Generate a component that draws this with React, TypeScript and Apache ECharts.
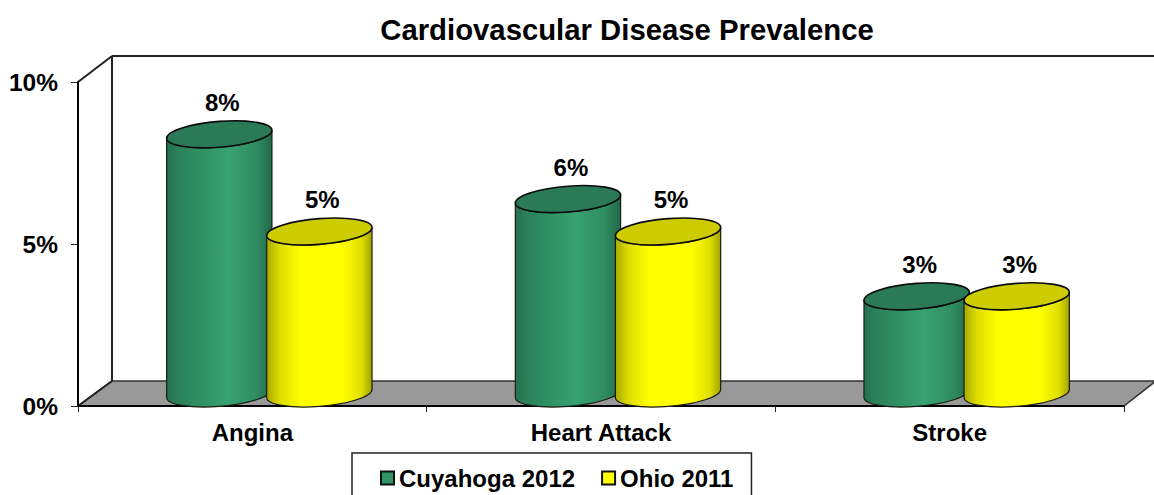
import React, { useEffect, useRef } from "react";
import * as echarts from "echarts";

const TITLE = "Cardiovascular Disease Prevalence";
const categories = ["Angina", "Heart Attack", "Stroke"];
const cuyahoga2012 = [8, 6, 3];
const ohio2011 = [5, 5, 3];
const yTicks = { min: 0, max: 10, interval: 5 };

const FONT = "'Liberation Sans', Arial, sans-serif";
const L = 78, R = 1124, T = 82, B = 406;
const DX = 34, DY = 25;
const K = 0.5523;

const GREEN_STOPS = [
  { offset: 0, color: "#23704f" },
  { offset: 0.1, color: "#2a8059" },
  { offset: 0.35, color: "#309265" },
  { offset: 0.58, color: "#38a272" },
  { offset: 0.85, color: "#2f8c61" },
  { offset: 1, color: "#216a4a" },
];
const YELLOW_STOPS = [
  { offset: 0, color: "#a8a800" },
  { offset: 0.12, color: "#dcdc00" },
  { offset: 0.32, color: "#ffff00" },
  { offset: 0.72, color: "#ffff00" },
  { offset: 0.9, color: "#dede00" },
  { offset: 1, color: "#a3a300" },
];

function makeRender(side: number, stops: any[], topColor: string) {
  return (params: any, api: any) => {
    const idx = api.value(0);
    const val = api.value(1);
    const band = api.size([1, 0])[0];
    const [bx, base] = api.coord([idx, 0]);
    const [, top] = api.coord([idx, val]);
    const rx = band * 0.151;
    const cx = bx + DX / 2 + side * band * 0.1435;
    const ry = 12.9;
    const kr = 4;
    const p = (cy: number, u: number, v: number) =>
      `${(cx + rx * u).toFixed(2)} ${(cy - kr * u + ry * v).toFixed(2)}`;
    const lower = (c: number) =>
      `C${p(c, -1, K)} ${p(c, -K, 1)} ${p(c, 0, 1)} C${p(c, K, 1)} ${p(c, 1, K)} ${p(c, 1, 0)}`;
    const upperBack = (c: number) =>
      `C${p(c, 1, K)} ${p(c, K, 1)} ${p(c, 0, 1)} C${p(c, -K, 1)} ${p(c, -1, K)} ${p(c, -1, 0)}`;
    const upperFront = (c: number) =>
      `C${p(c, 1, -K)} ${p(c, K, -1)} ${p(c, 0, -1)} C${p(c, -K, -1)} ${p(c, -1, -K)} ${p(c, -1, 0)}`;
    const topY = top - DY / 2;
    const botY = base - DY / 2;
    const body = `M${p(topY, -1, 0)} L${p(botY, -1, 0)} ${lower(botY)} L${p(topY, 1, 0)} ${upperBack(topY)} Z`;
    const cap = `M${p(topY, -1, 0)} ${lower(topY)} ${upperFront(topY)} Z`;
    return {
      type: "group",
      children: [
        {
          type: "path",
          shape: { pathData: body },
          style: {
            fill: new echarts.graphic.LinearGradient(0, 0, 1, 0, stops),
            stroke: "#1c1c10",
            lineWidth: 1.2,
          },
        },
        {
          type: "path",
          shape: { pathData: cap },
          style: { fill: topColor, stroke: "#0c0c0c", lineWidth: 1.6 },
        },
        {
          type: "text",
          x: cx + 3,
          y: topY - 32,
          style: {
            text: `${Math.round(val)}%`,
            fontFamily: FONT,
            fontWeight: "bold",
            fontSize: 24,
            fill: "#000",
            align: "center",
            verticalAlign: "middle",
          },
        },
      ],
    };
  };
}

export default function App() {
  const ref = useRef<HTMLDivElement>(null);
  useEffect(() => {
    const chart = echarts.init(ref.current!, null, { renderer: "svg" });
    const line = (x1: number, y1: number, x2: number, y2: number, color = "#222", w = 2) => ({
      type: "line",
      z: -1,
      silent: true,
      shape: { x1, y1, x2, y2 },
      style: { stroke: color, lineWidth: w },
    });
    chart.setOption({
      animation: false,
      backgroundColor: "#fff",
      title: {
        text: TITLE,
        left: 622,
        top: 10,
        textAlign: "center",
        textStyle: { fontFamily: FONT, fontWeight: "bold", fontSize: 29.3, color: "#000" },
      },
      grid: { left: L, right: 1154 - R, top: T, bottom: 495 - B, containLabel: false },
      xAxis: {
        type: "category",
        data: categories,
        boundaryGap: true,
        axisLine: { show: true, lineStyle: { color: "#000", width: 2 } },
        axisTick: { show: true, length: 6, lineStyle: { color: "#222", width: 1 } },
        axisLabel: {
          margin: 14,
          fontFamily: FONT,
          fontWeight: "bold",
          fontSize: 24,
          color: "#000",
        },
        z: 1,
      },
      yAxis: {
        type: "value",
        min: yTicks.min,
        max: yTicks.max,
        interval: yTicks.interval,
        splitLine: { show: false },
        axisLine: { show: true, lineStyle: { color: "#000", width: 2 } },
        axisTick: { show: true, length: 7, lineStyle: { color: "#222", width: 1 } },
        axisLabel: {
          margin: 20,
          formatter: "{value}%",
          fontFamily: FONT,
          fontWeight: "bold",
          fontSize: 24.5,
          color: "#000",
        },
        z: 1,
      },
      legend: {
        left: 352,
        top: 453,
        orient: "horizontal",
        padding: [13, 18, 13, 28],
        borderColor: "#222",
        borderWidth: 1.5,
        itemWidth: 13,
        itemHeight: 13,
        itemGap: 26,
        icon: "rect",
        textStyle: { fontFamily: FONT, fontWeight: "bold", fontSize: 24, color: "#000", padding: [0, 0, 0, 0] },
        data: [
          { name: "Cuyahoga 2012", itemStyle: { color: "#2f9466", borderColor: "#111", borderWidth: 2 } },
          { name: "Ohio 2011", itemStyle: { color: "#ffff00", borderColor: "#111", borderWidth: 2 } },
        ],
      },
      graphic: [
        {
          type: "polygon",
          z: -2,
          silent: true,
          shape: { points: [[L, B], [L + DX, B - DY], [1156, B - DY], [R, B]] },
          style: { fill: "#999999", stroke: "#333", lineWidth: 1.5 },
        },
        line(L + DX, T - DY - 1, L + DX, B - DY),
        line(L + DX, T - DY - 1, 1154, T - DY - 1),
        line(L, T, L + DX, T - DY - 1),
        line(L, B, L + DX, B - DY),
      ],
      series: [
        {
          name: "Cuyahoga 2012",
          type: "custom",
          z: 3,
          clip: false,
          itemStyle: { color: "#2f9466" },
          encode: { x: 0, y: 1 },
          data: cuyahoga2012.map((v, i) => [i, v]),
          renderItem: makeRender(-1, GREEN_STOPS, "#2a7a57"),
        },
        {
          name: "Ohio 2011",
          type: "custom",
          z: 4,
          clip: false,
          itemStyle: { color: "#ffff00" },
          encode: { x: 0, y: 1 },
          data: ohio2011.map((v, i) => [i, v]),
          renderItem: makeRender(1, YELLOW_STOPS, "#cccc00"),
        },
      ],
    });
    return () => chart.dispose();
  }, []);
  return (
    <div
      ref={ref}
      style={{ position: "absolute", left: 0, top: 0, width: 1154, height: 495, overflow: "hidden" }}
    />
  );
}
